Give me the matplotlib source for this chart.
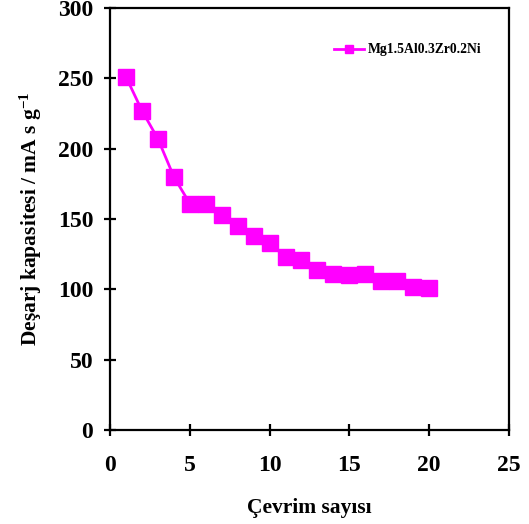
import matplotlib.pyplot as plt

cycles = list(range(1, 21))
capacity = [251, 227, 207, 180, 161, 161, 153, 145, 138, 133,
            123, 121, 114, 111, 110, 111, 106, 106, 102, 101]
series_label = 'Mg1.5Al0.3Zr0.2Ni'

plt.rcParams['font.family'] = 'Liberation Serif'
plt.rcParams['font.weight'] = 'bold'
plt.rcParams['mathtext.fontset'] = 'custom'
plt.rcParams['mathtext.bf'] = 'Liberation Serif:bold'
plt.rcParams['mathtext.rm'] = 'Liberation Serif:bold'
plt.rcParams['mathtext.default'] = 'bf'

fig = plt.figure(figsize=(5.29, 5.24), dpi=100)
ax = fig.add_axes([0.208, 0.179, 0.754, 0.806])

ax.plot(cycles, capacity, color='#ff00ff', marker='s', markersize=11,
        linewidth=2, label=series_label)

ax.set_xlim(0, 25)
ax.set_ylim(0, 300)
ax.set_xticks(range(0, 26, 5))
ax.set_yticks(range(0, 301, 50))

for s in ax.spines.values():
    s.set_linewidth(1.6)
ax.tick_params(direction='inout', length=8, width=1.6, labelsize=17, pad=8)
ax.tick_params(axis='x', pad=14)

ax.set_xlabel('Çevrim sayısı', fontsize=15.5, fontweight='bold', labelpad=16)
ax.set_ylabel('Deşarj kapasitesi / mA s g$^{-1}$', fontsize=15.5,
              fontweight='bold', labelpad=10)

ax.legend(loc='upper left', bbox_to_anchor=(0.53, 0.945), frameon=False,
          prop={'size': 9.8, 'weight': 'bold'}, handlelength=2.2,
          markerscale=0.55, handletextpad=0.3)

fig.savefig('out.png', dpi=100)
